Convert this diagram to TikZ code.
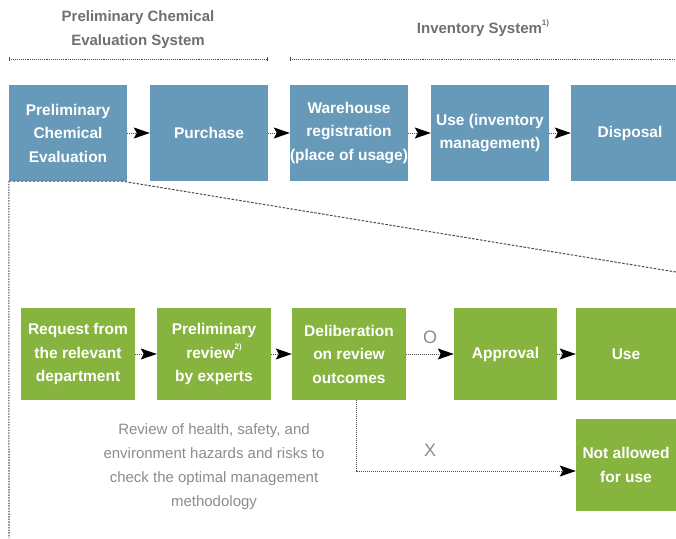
\documentclass[tikz,border=0pt]{standalone}
\usepackage{fontspec}
\setmainfont{Liberation Sans}
\usepackage{xcolor}
\usepackage{tikz}
\usetikzlibrary{arrows.meta, positioning}

\definecolor{boxblue}{HTML}{6799B8}
\definecolor{boxgreen}{HTML}{87B43F}
\definecolor{headgray}{HTML}{6E6F72}
\definecolor{notegray}{HTML}{8C8C8C}
\definecolor{linegray}{HTML}{4A4A4A}

\newcommand{\footmark}[1]{\raisebox{0.55em}{\fontsize{8}{8}\selectfont #1}}

\tikzset{
    flowbox/.style={fill=#1, text=white, align=center, inner sep=0pt,
        font=\fontsize{15.5}{23.5}\selectfont\bfseries},
    topbox/.style={flowbox=boxblue, minimum width=118pt, minimum height=96pt},
    lowbox/.style={flowbox=boxgreen, minimum height=92pt},
    flow/.style={densely dotted, line width=1pt, linegray,
        -{Stealth[length=16pt, width=11pt, inset=3pt, color=black]}},
    header/.style={headgray, align=center,
        font=\fontsize{15}{24}\selectfont\bfseries},
    rule/.style={densely dotted, line width=0.9pt, linegray,
        {Bar[width=4pt]}-{Bar[width=4pt]}},
    note/.style={notegray, align=center, font=\fontsize{15}{24}\selectfont}
}

\begin{document}
\begin{tikzpicture}[x=1pt, y=-1pt]
    \useasboundingbox (0,0) rectangle (676,538);

    % Ueberschriften
    \node[header] (hpce) at (138,29.5) {Preliminary Chemical\\Evaluation System};
    \node[header] (hinv) at (483,28) {Inventory System\footmark{1)}};

    % Obere Reihe
    \node[topbox] (pce) at (68,133) {Preliminary\\Chemical\\Evaluation};
    \node[topbox] (pur) at (209,133) {Purchase};
    \node[topbox] (reg) at (349,133) {Warehouse\\registration\\(place of usage)};
    \node[topbox] (inv) at (490,133) {Use (inventory\\management)};
    \node[topbox] (dis) at (630,133) {Disposal};

    \draw[rule] (pce.west |- 0,59) -- (pur.east |- 0,59);
    \draw[rule] (reg.west |- 0,59) -- (690,59);

    \foreach \a/\b in {pce/pur, pur/reg, reg/inv, inv/dis} {
        \draw[flow] (\a) -- (\b);
    }

    % Untere Reihe
    \node[lowbox, minimum width=114pt] (req) at (78,354) {Request from\\the relevant\\department};
    \node[lowbox, minimum width=114pt] (rev) at (214,354) {Preliminary\\review\footmark{2)}\\by experts};
    \node[lowbox, minimum width=114pt] (del) at (349,354) {Deliberation\\on review\\outcomes};
    \node[lowbox, minimum width=103pt] (app) at (505.5,354) {Approval};
    \node[lowbox, minimum width=100pt] (use) at (626,354) {Use};
    \node[lowbox, minimum width=100pt] (nau) at (626,465) {Not allowed\\for use};

    \foreach \a/\b in {req/rev, rev/del, del/app, app/use} {
        \draw[flow] (\a) -- (\b);
    }
    \coordinate (bend) at (356,471);
    \draw[flow] (bend |- del.south) -- (bend) -- (nau.west |- bend);

    \node[notegray, font=\fontsize{18}{18}\selectfont] (yes) at (430,337) {O};
    \node[notegray, font=\fontsize{18}{18}\selectfont] (no) at (430,450) {X};
    \node[note] (rnote) at (214,467) {Review of health, safety, and\\environment hazards and risks to\\check the optimal management\\methodology};

    % Vergroesserung
    \coordinate (zoomend) at (676,272);
    \coordinate (leftend) at (9,538);
    \draw[dash pattern=on 2.5pt off 1.5pt, line width=1pt, linegray]
        (pce.south west) -- ([xshift=-5pt]pce.south east) -- (zoomend);
    \draw[dash pattern=on 1.5pt off 1.2pt, line width=1.6pt, notegray] (pce.south west) -- (leftend);
\end{tikzpicture}
\end{document}
